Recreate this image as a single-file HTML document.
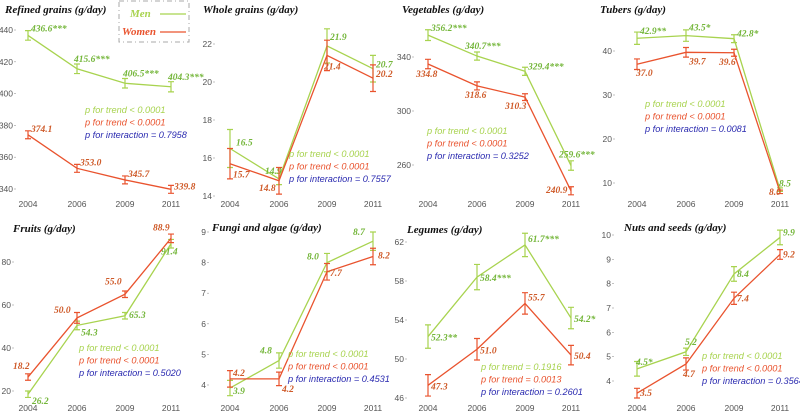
<!DOCTYPE html>
<html><head><meta charset="utf-8">
<style>
body{margin:0;background:#fff;width:800px;height:414px;overflow:hidden}
svg{display:block}
.tk{font:8.5px "Liberation Sans",sans-serif;fill:#555}
.tt{font:bold italic 11px "Liberation Serif",serif;fill:#111}
.vl{font:bold italic 9.5px "Liberation Serif",serif}
.pt{font:italic 9.2px "Liberation Sans",sans-serif}
</style></head><body>
<svg id="c" width="800" height="414"></svg>
<script>
const years=["2004","2006","2009","2011"];
const titles=["Refined grains (g/day)","Whole grains (g/day)","Vegetables (g/day)","Tubers (g/day)","Fruits (g/day)","Fungi and algae (g/day)","Legumes (g/day)","Nuts and seeds (g/day)"];
const menVals=[[436.6,415.6,406.5,404.3],[16.5,14.9,21.9,20.7],[356.2,340.7,329.4,259.6],[42.9,43.5,42.8,8.5],[18.5,50.5,55.0,88.5],[3.9,4.8,8.0,8.7],[52.3,58.4,61.7,54.2],[4.5,5.2,8.4,9.9]];
const womenVals=[[374.1,353.0,345.7,339.8],[15.7,14.8,21.4,20.2],[334.8,318.6,310.3,240.9],[37.0,39.7,39.6,8.0],[26.5,54.0,65.0,91.0],[4.2,4.2,7.7,8.2],[47.3,51.0,55.7,50.4],[3.5,4.7,7.4,9.2]];
const menErr=[[3,3,3,3.2],[1.0,0.3,0.9,0.7],[4,3,3,3.5],[1.4,1.3,0.9,0.4],[1.5,2,1.5,2],[0.25,0.25,0.3,0.3],[1.2,1.3,1.2,1.1],[0.3,0.15,0.3,0.3]];
const womenErr=[[2.5,2.5,2.5,2.5],[0.8,0.7,0.8,0.7],[3.5,3,2.5,3],[1.2,1.1,0.8,0.4],[1.5,2.5,1.5,2],[0.27,0.22,0.27,0.27],[1.1,1.1,1.1,1.0],[0.2,0.25,0.25,0.2]];
const menLabels=[["436.6***","415.6***","406.5***","404.3***"],["16.5","14.9","21.9","20.7"],["356.2***","340.7***","329.4***","259.6***"],["42.9**","43.5*","42.8*","8.5"],["26.2","54.3","65.3","91.4"],["3.9","4.8","8.0","8.7"],["52.3**","58.4***","61.7***","54.2*"],["4.5*","5.2","8.4","9.9"]];
const womenLabels=[["374.1","353.0","345.7","339.8"],["15.7","14.8","21.4","20.2"],["334.8","318.6","310.3","240.9"],["37.0","39.7","39.6","8.0"],["18.2","50.0","55.0","88.9"],["4.2","4.2","7.7","8.2"],["47.3","51.0","55.7","50.4"],["3.5","4.7","7.4","9.2"]];
const yTicks=[[340,360,380,400,420,440],[14,16,18,20,22],[260,300,340],[10,20,30,40],[20,40,60,80],[4,5,6,7,8,9],[46,50,54,58,62],[4,5,6,7,8,9,10]];
const pMen=["p for trend < 0.0001","p for trend < 0.0001","p for trend < 0.0001","p for trend < 0.0001","p for trend < 0.0001","p for trend < 0.0001","p for trend = 0.1916","p for trend < 0.0001"];
const pWomen=["p for trend < 0.0001","p for trend < 0.0001","p for trend < 0.0001","p for trend < 0.0001","p for trend < 0.0001","p for trend < 0.0001","p for trend = 0.0013","p for trend < 0.0001"];
const pInt=["p for interaction = 0.7958","p for interaction = 0.7557","p for interaction = 0.3252","p for interaction = 0.0081","p for interaction = 0.5020","p for interaction = 0.4531","p for interaction = 0.2601","p for interaction = 0.3564"];

const L=[
 {x0:28,ax:16,ty:13,tx:5,sc:[340,189,440,30],px:85,py:113,mo:[[3,-4],[-3,-7],[-2,-7],[-3,-7]],wo:[[3,-3],[3,-3],[3,-3],[3,0]]},
 {x0:230,ax:215,ty:13,tx:203,sc:[14,196,22,44],px:289,py:157,mo:[[6,-3],[-14,-5],[3,-6],[3,-1]],wo:[[3,14],[-20,10],[-3,14],[3,-1]]},
 {x0:428,ax:414,ty:13,tx:402,sc:[260,165,340,57],px:427,py:134,mo:[[3,-4],[-12,-7],[3,-2],[-12,-8]],wo:[[-12,13],[-12,12],[-20,12],[-25,2]]},
 {x0:637,ax:615,ty:13,tx:600,sc:[10,183,40,51],px:645,py:107,mo:[[3,-4],[3,-5],[3,-2],[-1,-3]],wo:[[-1,12],[3,12],[-15,12],[-11,3]]},
 {x0:28,ax:14,ty:232,tx:13,sc:[20,391,80,262],px:79,py:351,mo:[[4,10],[4,10],[4,2],[-10,11]],wo:[[-15,-8],[-23,-5],[-20,-10],[-18,-8]]},
 {x0:230,ax:209,ty:231,tx:212,sc:[4,385,9,232],px:288,py:357,mo:[[3,6],[-19,-7],[-20,-3],[-20,-6]],wo:[[3,-3],[3,13],[3,4],[5,2]]},
 {x0:428,ax:407,ty:233,tx:407,sc:[46,398,62,242],px:481,py:370,mo:[[3,4],[3,4],[3,-3],[3,4]],wo:[[3,4],[3,4],[3,-3],[3,4]]},
 {x0:637,ax:614,ty:231,tx:624,sc:[4,381,10,235],px:702,py:359,mo:[[-1,-4],[-1,-7],[3,3],[3,-2]],wo:[[3,3],[-3,13],[3,3],[3,3]]}
];
const xOff=[0,49,97,143];
const GL="#a8d34f",GT="#74b63a",RL="#e9532e",RT="#cf5b2a",BL="#2b2bb0";
const svg=document.getElementById('c');
const NS="http://www.w3.org/2000/svg";
function mk(t,a,p){const e=document.createElementNS(NS,t);for(const k in a)e.setAttribute(k,a[k]);(p||svg).appendChild(e);return e;}
function txt(s,a,p){const e=mk('text',a,p);e.textContent=s;return e;}

titles.forEach((title,i)=>{
  const c=L[i];
  const g=mk('g',{});
  
  
  const [v1,y1,v2,y2]=c.sc;
  const ys=v=>y1+(v-v1)*(y2-y1)/(v2-v1);
  const xs=j=>c.x0+xOff[j];
  const t=txt(title,{x:c.tx,y:c.ty,class:'tt'},g);
  
  
  yTicks[i].forEach(v=>{
    const e=txt(v,{x:c.ax-3,y:ys(v)+3,class:'tk','text-anchor':'end'},g);
    
    
    mk('line',{x1:c.ax-2,x2:c.ax,y1:ys(v),y2:ys(v),stroke:'#999','stroke-width':0.6},g);
  });
  const ly=i<4?207:411;
  years.forEach((yr,j)=>{
    const e=txt(yr,{x:xs(j),y:ly,class:'tk','text-anchor':'middle'},g);
    
    
  });
  [[menVals,menErr,menLabels,GL,GT,c.mo,'men'],[womenVals,womenErr,womenLabels,RL,RT,c.wo,'women']].forEach(([V,E,Lb,lc,tc,off,nm])=>{
    const vals=V[i];
    const pl=mk('polyline',{points:vals.map((v,j)=>xs(j)+','+ys(v)).join(' '),fill:'none',stroke:lc,'stroke-width':1.3},g);
    
    
    vals.forEach((v,j)=>{
      const x=xs(j),a=ys(v+E[i][j]),b=ys(v-E[i][j]);
      const eb=mk('path',{d:`M${x-3},${a}H${x+3}M${x},${a}V${b}M${x-3},${b}H${x+3}`,stroke:lc,'stroke-width':1.2,fill:'none'},g);
      
      
      const lt=txt(Lb[i][j],{x:x+off[j][0],y:ys(v)+off[j][1],class:'vl',fill:tc},g);
      
      
    });
  });
  [[pMen[i],GL],[pWomen[i],RL],[pInt[i],BL]].forEach(([s,col],k)=>{
    const e=txt(s,{x:c.px,y:c.py+k*12.5,class:'pt',fill:col},g);
    
    
  });
});
const lg=mk('g',{});


mk('rect',{x:119,y:1,width:70,height:41,fill:'#fff',stroke:'#aaa','stroke-dasharray':'5,3,1,3','stroke-width':1},lg);
const m=txt('Men',{x:130,y:17,class:'vl',fill:GL},lg);m.style.fontSize='11px';


mk('line',{x1:160,x2:186,y1:14,y2:14,stroke:GL,'stroke-width':1.3},lg);
const w=txt('Women',{x:122,y:35,class:'vl',fill:RL},lg);w.style.fontSize='11px';


mk('line',{x1:160,x2:186,y1:32,y2:32,stroke:RL,'stroke-width':1.3},lg);
</script>
</body></html>
